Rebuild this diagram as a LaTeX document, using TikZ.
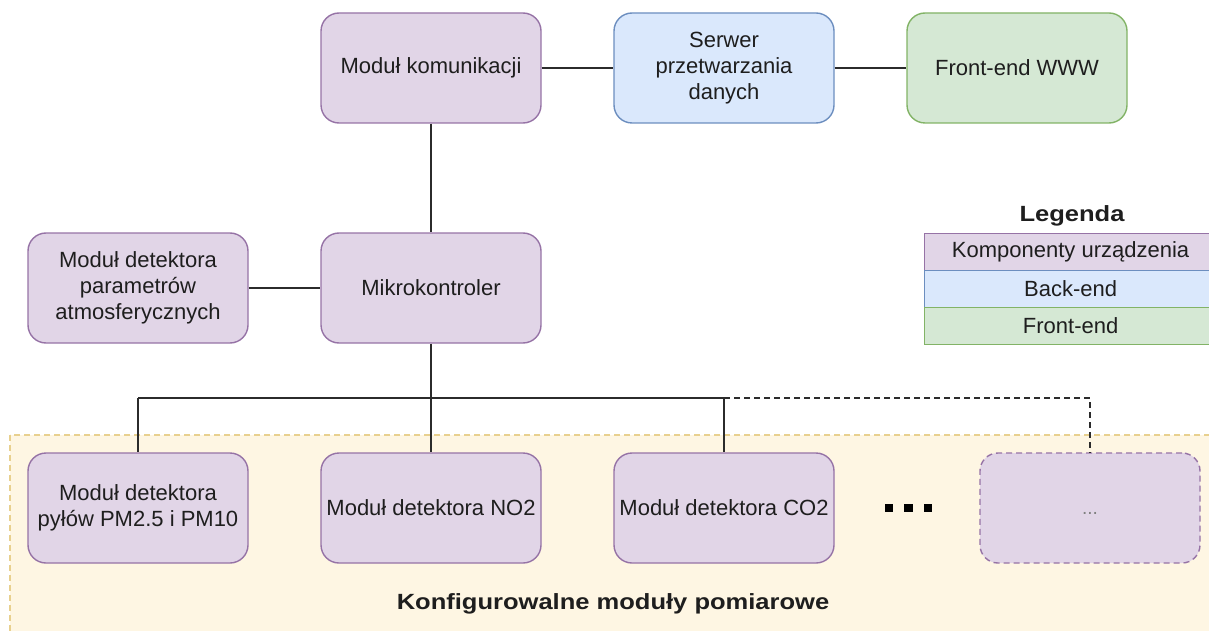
\documentclass[tikz,border=0pt]{standalone}
\usepackage{fontspec}
\setmainfont{Liberation Sans}
\newfontfamily\widebold[FakeStretch=1.16]{Liberation Sans Bold}
\definecolor{devfill}{HTML}{E1D5E7}
\definecolor{devline}{HTML}{9673A6}
\definecolor{backfill}{HTML}{DAE8FC}
\definecolor{backline}{HTML}{6C8EBF}
\definecolor{frontfill}{HTML}{D5E8D4}
\definecolor{frontline}{HTML}{82B366}
\definecolor{zonefill}{HTML}{FEF6E3}
\definecolor{zoneline}{HTML}{E8D08E}
\definecolor{linec}{HTML}{2B2B2B}
\definecolor{textc}{HTML}{1E1E1E}
\begin{document}
\begin{tikzpicture}[x=1pt,y=-1pt,
  base/.style={rounded corners=18pt, line width=1.4pt, minimum width=220pt, minimum height=110pt,
    inner sep=2pt, align=center, text=textc, font=\fontsize{22}{26}\selectfont},
  dev/.style={base, fill=devfill, draw=devline},
  back/.style={base, fill=backfill, draw=backline},
  front/.style={base, fill=frontfill, draw=frontline},
  legrow/.style={minimum width=292pt, minimum height=37pt, inner sep=0pt, line width=1.2pt,
    text=textc, font=\fontsize{22}{26}\selectfont},
  title/.style={font=\fontsize{22}{26}\widebold, text=textc},
  link/.style={draw=linec, line width=1.5pt},
  sq/.style={fill=black, minimum size=8.5pt, inner sep=0pt}
]
\useasboundingbox (0,0) rectangle (1209,631);
% configurable zone
\draw[fill=zonefill, draw=zoneline, line width=1.2pt, dash pattern=on 6pt off 4pt] (10,435) rectangle (1230,650);
\node[title] (zonelabel) at (613,604) {Konfigurowalne moduły pomiarowe};

% top row
\node[dev]   (kom)    at (431,68)  {Moduł komunikacji};
\node[back]  (serwer) at (724,68)  {Serwer\\przetwarzania\\danych};
\node[front] (www)    at (1017,68) {Front-end WWW};
% middle row
\node[dev] (param) at (138,288) {Moduł detektora\\parametrów\\atmosferycznych};
\node[dev] (mikro) at (431,288) {Mikrokontroler};
% bottom row
\node[dev] (pm)  at (138,508) {Moduł detektora\\pyłów PM2.5 i PM10};
\node[dev] (no2) at (431,508) {Moduł detektora NO2};
\node[dev] (co2) at (724,508) {Moduł detektora CO2};
\node[dev, dashed, dash pattern=on 6pt off 4pt, text=gray, font=\fontsize{19}{30}\selectfont] (more) at (1090,508) {\strut...};

% dots
\node[sq] (d1) at (889,508) {};
\node[sq] (d2) at (908.5,508) {};
\node[sq] (d3) at (928,508) {};

% connectors
\draw[link] (kom) -- (serwer);
\draw[link] (serwer) -- (www);
\draw[link] (kom) -- (mikro);
\draw[link] (param) -- (mikro);
\coordinate (j0) at (431,398);
\coordinate (jL) at (138,398);
\coordinate (jR) at (724,398);
\coordinate (jD) at (1090,398);
\draw[link] (mikro.south) -- (j0);
\draw[link] (jL) -- (jR);
\draw[link] (jL) -- (pm.north);
\draw[link] (j0) -- (no2.north);
\draw[link] (jR) -- (co2.north);
\draw[link, dash pattern=on 6pt off 4pt] (jR) -- (jD) -- (more.north);

% legend
\node[title] (legtitle) at (1072,216) {Legenda};
\node[legrow, fill=devfill, draw=devline, anchor=north west] (leg1) at (924,233) {Komponenty urządzenia};
\node[legrow, fill=backfill, draw=backline, anchor=north west] (leg2) at (924,270) {Back-end};
\node[legrow, fill=frontfill, draw=frontline, anchor=north west] (leg3) at (924,307) {Front-end};
\end{tikzpicture}
\end{document}
